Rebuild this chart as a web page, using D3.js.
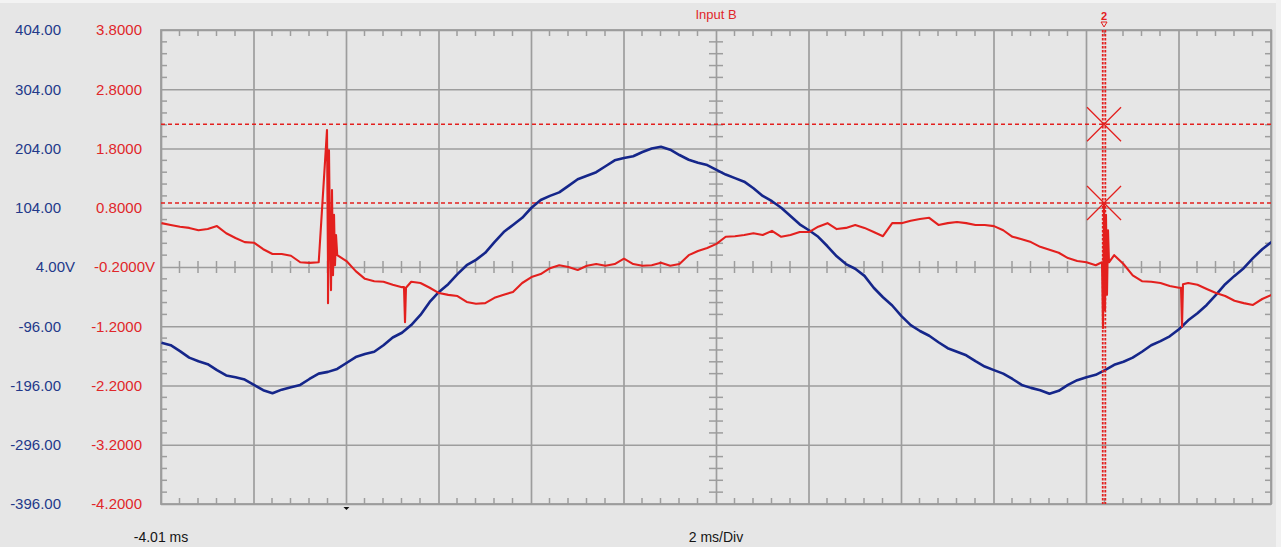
<!DOCTYPE html>
<html>
<head>
<meta charset="utf-8">
<script src="https://cdn.jsdelivr.net/npm/d3@7"></script>
<style>
  html, body { margin: 0; padding: 0; background: #e6e6e6; }
  svg { display: block; }
  text { font-family: "Liberation Sans", Arial, sans-serif; }
</style>
</head>
<body>
<svg id="chart" width="1281" height="547"></svg>
<script>
// ---------------- DATA ----------------
// Time axis (ms): start, 2 ms/Div, 12 divisions
const timeStart = -4.01;
const timePerDiv = 2;
const timeDivs = 12;
// Sample times of both traces (ms)
const sampleStart = -4.0;
const sampleStep = 0.2;

// Channel A (blue, V)
const blueVolts = [
  -124,-128,-138,-149,-155,-160,-170,-179,-182,-186,
  -195,-204,-209,-203,-199,-195,-185,-176,-173,-168,
  -158,-148,-143,-139,-128,-115,-107,-94,-77,-55,
  -38,-25,-8,7,16,28,46,63,75,87,
  104,117,124,130,141,152,158,164,174,184,
  188,191,198,204,207,202,193,185,180,176,
  168,160,154,148,137,124,115,104,90,76,
  66,55,39,22,9,1,-11,-31,-47,-61,
  -79,-94,-104,-112,-123,-133,-139,-145,-155,-164,
  -170,-176,-185,-195,-200,-204,-210,-205,-195,-187,
  -182,-178,-170,-161,-156,-149,-139,-128,-121,-113,
  -101,-86,-74,-60,-43,-25,-11,2,19,34,
  46
];

// Input B (red, V)
const redVolts = [
  0.54,0.51,0.48,0.46,0.42,0.44,0.49,0.37,0.29,0.22,
  0.21,0.10,0.02,0.02,-0.01,-0.12,-0.13,-0.12,-0.12,0.00,
  -0.10,-0.27,-0.40,-0.44,-0.45,-0.50,-0.54,-0.45,-0.47,-0.55,
  -0.64,-0.67,-0.69,-0.79,-0.82,-0.81,-0.72,-0.67,-0.62,-0.47,
  -0.37,-0.32,-0.22,-0.17,-0.20,-0.25,-0.18,-0.15,-0.18,-0.15,
  -0.06,-0.15,-0.18,-0.17,-0.13,-0.18,-0.15,0.00,0.07,0.12,
  0.19,0.31,0.32,0.34,0.37,0.34,0.41,0.31,0.34,0.39,
  0.39,0.48,0.54,0.44,0.46,0.51,0.46,0.39,0.32,0.54,
  0.54,0.58,0.61,0.63,0.51,0.54,0.56,0.54,0.51,0.51,
  0.49,0.42,0.31,0.27,0.22,0.14,0.09,0.04,-0.05,-0.10,
  -0.12,-0.17,-0.12,0.00,-0.15,-0.34,-0.44,-0.45,-0.47,-0.52,
  -0.55,-0.47,-0.50,-0.57,-0.64,-0.69,-0.77,-0.81,-0.84,-0.74,
  -0.67
];
// Switching spikes / dips on Input B
const spikeTimes = [-0.421,-0.399,-0.378,-0.356,-0.334,-0.313,-0.291,-0.269,-0.248,-0.226,
  1.244,1.266,1.287,
  16.336,16.358,16.379,16.401,16.422,16.444,16.466,16.487,
  18.044,18.066,18.087];
const spikeVolts = [2.11,-0.81,1.77,0.26,-0.59,1.10,-0.34,0.68,-0.17,0.34,
  -0.54,-1.13,-0.55,
  -0.12,-1.23,0.85,-0.93,0.68,-0.67,0.42,-0.12,
  -0.55,-1.21,-0.49];

// Axis tick labels
const blueTickValues = [404,304,204,104,4,-96,-196,-296,-396];
const blueTickLabels = ["404.00","304.00","204.00","104.00","4.00V","-96.00","-196.00","-296.00","-396.00"];
const redTickValues = [3.8,2.8,1.8,0.8,-0.2,-1.2,-2.2,-3.2,-4.2];
const redTickLabels = ["3.8000","2.8000","1.8000","0.8000","-0.2000V","-1.2000","-2.2000","-3.2000","-4.2000"];

// Cursors
const cursorTime = 16.38;
const cursorLevels = [2.21, 0.88];
const triggerTime = 0;

const titleText = "Input B";
const startLabel = "-4.01 ms";
const scaleLabel = "2 ms/Div";
const cursorMark = "2";

// ---------------- DRAW ----------------
const svg = d3.select("#chart");
const L = 161, R = 1271, T = 30, B = 504;
const BLUE = "#15268a", RED = "#e3201e", GRID = "#9d9d9d";

const x = d3.scaleLinear().domain([timeStart, timeStart + timePerDiv * timeDivs]).range([L, R]);
const yBlue = d3.scaleLinear().domain([-396, 404]).range([B, T]);
const yRed = d3.scaleLinear().domain([-4.2, 3.8]).range([B, T]);

svg.append("rect").attr("width", 1281).attr("height", 547).attr("fill", "#e6e6e6");
svg.append("rect").attr("width", 1281).attr("height", 3).attr("fill", "#f3f3f3");
svg.append("rect").attr("x", 1276).attr("width", 5).attr("height", 547).attr("fill", "#f1f1f1");

const majorT = d3.range(timeDivs + 1).map(i => timeStart + timePerDiv * i);
const minorT = d3.range(timeDivs * 5 + 1).map(i => timeStart + 0.4 * i).filter((d, i) => i % 5 !== 0);
const majorY = redTickValues;
const minorY = d3.range(41).map(i => -4.2 + 0.2 * i).filter((d, i) => i % 5 !== 0);

// Grid via axes
const gx = svg.append("g").attr("transform", `translate(0,${B})`)
  .call(d3.axisBottom(x).tickValues(majorT).tickSize(-(B - T)).tickFormat(""));
const gy = svg.append("g").attr("transform", `translate(${L},0)`)
  .call(d3.axisLeft(yRed).tickValues(majorY).tickSize(-(R - L)).tickFormat(""));
[gx, gy].forEach(g => {
  g.select(".domain").remove();
  g.selectAll(".tick line").attr("stroke", GRID).attr("stroke-width", 1.7);
});

// frame
svg.append("rect").attr("x", L).attr("y", T).attr("width", R - L).attr("height", B - T)
  .attr("fill", "none").attr("stroke", GRID).attr("stroke-width", 1.8);

const cx = x(timeStart + timePerDiv * timeDivs / 2);
const cy = yRed(-0.2);
const minor = svg.append("g").attr("stroke", GRID).attr("stroke-width", 1.5);
minor.selectAll(".mt").data(minorT).join("line")
  .attr("x1", d => x(d)).attr("x2", d => x(d)).attr("y1", T).attr("y2", T + 6);
minor.selectAll(".mb").data(minorT).join("line")
  .attr("x1", d => x(d)).attr("x2", d => x(d)).attr("y1", B - 6).attr("y2", B);
minor.selectAll(".mc").data(minorT).join("line")
  .attr("x1", d => x(d)).attr("x2", d => x(d)).attr("y1", cy - 6).attr("y2", cy + 6);
minor.selectAll(".ml").data(minorY).join("line")
  .attr("y1", d => yRed(d)).attr("y2", d => yRed(d)).attr("x1", L).attr("x2", L + 6);
minor.selectAll(".mr").data(minorY).join("line")
  .attr("y1", d => yRed(d)).attr("y2", d => yRed(d)).attr("x1", R - 6).attr("x2", R);
minor.selectAll(".mv").data(minorY).join("line")
  .attr("y1", d => yRed(d)).attr("y2", d => yRed(d)).attr("x1", cx - 7).attr("x2", cx + 7);

// axis labels
const lab = svg.append("g").attr("font-size", 15);
lab.selectAll(".bl").data(blueTickValues).join("text")
  .attr("x", (d, i) => blueTickLabels[i].endsWith("V") ? 75 : 61)
  .attr("y", d => yBlue(d)).attr("dy", "0.36em").attr("text-anchor", "end")
  .attr("fill", "#23398a").text((d, i) => blueTickLabels[i]);
lab.selectAll(".rl").data(redTickValues).join("text")
  .attr("x", (d, i) => redTickLabels[i].endsWith("V") ? 155 : 142)
  .attr("y", d => yRed(d)).attr("dy", "0.36em").attr("text-anchor", "end")
  .attr("fill", "#e0262a").text((d, i) => redTickLabels[i]);

svg.append("text").attr("x", cx).attr("y", 14).attr("dy", "0.35em").attr("text-anchor", "middle")
  .attr("font-size", 13).attr("fill", "#e0262a").text(titleText);
svg.append("text").attr("x", L).attr("y", 537).attr("dy", "0.35em").attr("text-anchor", "middle")
  .attr("font-size", 14).attr("fill", "#151515").text(startLabel);
svg.append("text").attr("x", cx).attr("y", 537).attr("dy", "0.35em").attr("text-anchor", "middle")
  .attr("font-size", 14).attr("fill", "#151515").text(scaleLabel);

// trigger marker
const tx = x(triggerTime);
svg.append("path").attr("d", `M${tx - 3},${B + 3}L${tx + 3},${B + 3}L${tx},${B + 6}Z`).attr("fill", "#111");

// clip
svg.append("clipPath").attr("id", "clip").append("rect")
  .attr("x", L).attr("y", T).attr("width", R - L).attr("height", B - T);
const plot = svg.append("g").attr("clip-path", "url(#clip)");

// horizontal cursors
plot.selectAll(".hc").data(cursorLevels).join("line")
  .attr("x1", L).attr("x2", R).attr("y1", d => yRed(d)).attr("y2", d => yRed(d))
  .attr("stroke", RED).attr("stroke-width", 1.5).attr("stroke-dasharray", "4,3");

// traces
const blueData = blueVolts.map((v, i) => ({ t: sampleStart + sampleStep * i, v }));
const redData = redVolts.map((v, i) => ({ t: sampleStart + sampleStep * i, v }))
  .concat(spikeTimes.map((t, i) => ({ t, v: spikeVolts[i] })))
  .sort((a, b) => a.t - b.t);

plot.append("path").datum(blueData)
  .attr("d", d3.line().x(d => x(d.t)).y(d => yBlue(d.v)))
  .attr("fill", "none").attr("stroke", BLUE).attr("stroke-width", 2.6).attr("stroke-linejoin", "round");
plot.append("path").datum(redData)
  .attr("d", d3.line().x(d => x(d.t)).y(d => yRed(d.v)))
  .attr("fill", "none").attr("stroke", RED).attr("stroke-width", 2.1).attr("stroke-linejoin", "round");

// vertical cursor (double dotted)
const vx = x(cursorTime);
[-1.3, 1.3].forEach(off => {
  svg.append("line").attr("x1", vx + off).attr("x2", vx + off).attr("y1", T).attr("y2", B)
    .attr("stroke", RED).attr("stroke-width", 1.8).attr("stroke-dasharray", "2.5,1.5");
});
// X markers at cursor crossings
svg.selectAll(".xm").data(cursorLevels).join("path")
  .attr("d", d => {
    const yy = yRed(d), s = 17;
    return `M${vx - s},${yy - s}L${vx + s},${yy + s}M${vx - s},${yy + s}L${vx + s},${yy - s}`;
  })
  .attr("stroke", RED).attr("stroke-width", 1.3).attr("fill", "none");
// cursor tag
svg.append("text").attr("x", vx).attr("y", 16).attr("dy", "0.35em").attr("text-anchor", "middle")
  .attr("font-size", 11).attr("font-weight", "bold").attr("fill", RED).text(cursorMark);
svg.append("path").attr("d", `M${vx - 3},${22}L${vx + 3},${22}L${vx},${27}Z`)
  .attr("fill", "none").attr("stroke", RED).attr("stroke-width", 1);
</script>
</body>
</html>
